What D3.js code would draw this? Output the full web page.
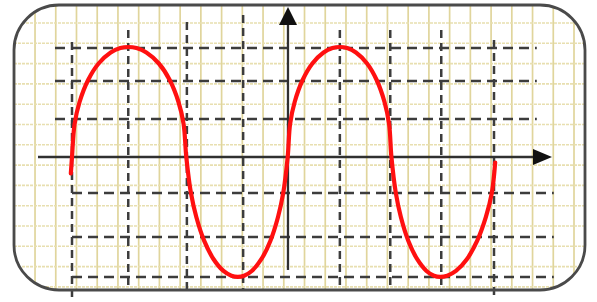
<!DOCTYPE html>
<html>
<head>
<meta charset="utf-8">
<script src="https://cdn.jsdelivr.net/npm/d3@7/dist/d3.min.js"></script>
<style>
  html, body { margin: 0; padding: 0; background: #ffffff; }
  svg { display: block; }
</style>
</head>
<body>
<svg id="chart" width="597" height="302"></svg>
<script>
// ---- DATA ----
// phase in degrees along x, amplitude (peak = 1) along y
const curveX = [-2,
  0, 4.4, 12.9, 27.5, 45.4, 66, 82.5, 96,
  110, 126.9, 148.2, 166.7, 181.7, 190.4, 195,
  202.9, 212.1, 225.6, 241.3, 258.4, 271.9, 283,
  293.7, 306.7, 323.3, 338.4, 351.5, 360.4, 368,
  372.1, 379.9, 393.5, 410.1, 429.2, 444.5, 457,
  469.4, 484.5, 503.4, 519.8, 533.2, 541, 545,
  552.5, 561.1, 573.9, 588.7, 604.8, 617.5, 628,
  640.2, 655.1, 674, 691.2, 706.2, 716.3, 722];
const curveY = [-0.15,
  0, 0.3, 0.5, 0.7, 0.85, 0.95, 0.99, 1.0,
  0.99, 0.95, 0.85, 0.7, 0.5, 0.3, 0,
  -0.327, -0.545, -0.763, -0.927, -1.036, -1.079, -1.09,
  -1.079, -1.036, -0.927, -0.763, -0.545, -0.327, 0,
  0.3, 0.5, 0.7, 0.85, 0.95, 0.99, 1.0,
  0.99, 0.95, 0.85, 0.7, 0.5, 0.3, 0,
  -0.327, -0.545, -0.763, -0.927, -1.036, -1.079, -1.09,
  -1.079, -1.036, -0.927, -0.763, -0.545, -0.327, -0.05];
// dashed guide lines (x in degrees, y in amplitude)
const vGuides = [0, 96, 196, 292, 457, 543, 630, 720];
const hGuidesUpper = [0.99, 0.69, 0.345];
const hGuidesLower = [-0.327, -0.727, -1.09];
const yAxisAt = 368.5;

// ---- LAYOUT ----
const svg = d3.select("#chart");
const x = d3.scaleLinear().domain([0, 720]).range([72, 494]);
const y = d3.scaleLinear().domain([-1, 1]).range([267, 47]);

const box = { x: 14, y: 5, w: 571, h: 285, r: 45 };

const defs = svg.append("defs");
defs.append("clipPath").attr("id", "boxclip")
  .append("rect").attr("x", box.x).attr("y", box.y).attr("width", box.w).attr("height", box.h)
  .attr("rx", box.r).attr("ry", box.r);

svg.append("rect").attr("x", box.x).attr("y", box.y).attr("width", box.w).attr("height", box.h)
  .attr("rx", box.r).attr("ry", box.r).attr("fill", "#ffffff");

// light graph-paper grid
const g = svg.append("g").attr("clip-path", "url(#boxclip)");
g.selectAll("line.gv").data(d3.range(14.3, 590, 20.73)).join("line")
  .attr("x1", d => d).attr("x2", d => d).attr("y1", box.y).attr("y2", box.y + box.h)
  .attr("stroke", "#e0d59c").attr("stroke-width", 1.7);
g.selectAll("line.gh").data(d3.range(2.7, 300, 20.3)).join("line")
  .attr("y1", d => d).attr("y2", d => d).attr("x1", box.x).attr("x2", box.x + box.w)
  .attr("stroke", "#e8dfb0").attr("stroke-width", 1.6).attr("stroke-dasharray", "3,1");

// dashed guides
const dashCol = "#3c3c3c";
const vTop = [1.045, 1.155, 1.227, 1.29, 1.155, 1.155, 1.155, 1.064];
const vBot = [-1.3, -1.21, -1.21, -1.21, -1.21, -1.21, -1.21, -1.3];
svg.selectAll("line.vg").data(vGuides).join("line")
  .attr("x1", d => x(d)).attr("x2", d => x(d))
  .attr("y1", (d, i) => y(vTop[i])).attr("y2", (d, i) => y(vBot[i]))
  .attr("stroke", dashCol).attr("stroke-width", 2.5).attr("stroke-dasharray", "8,5");
svg.selectAll("line.hu").data(hGuidesUpper).join("line")
  .attr("y1", d => y(d)).attr("y2", d => y(d))
  .attr("x1", x(-29)).attr("x2", x(793))
  .attr("stroke", dashCol).attr("stroke-width", 2.5).attr("stroke-dasharray", "10,6");
svg.selectAll("line.hl").data(hGuidesLower).join("line")
  .attr("y1", d => y(d)).attr("y2", d => y(d))
  .attr("x1", x(0)).attr("x2", x(822))
  .attr("stroke", dashCol).attr("stroke-width", 2.5).attr("stroke-dasharray", "10,6");

// box border
svg.append("rect").attr("x", box.x).attr("y", box.y).attr("width", box.w).attr("height", box.h)
  .attr("rx", box.r).attr("ry", box.r).attr("fill", "none")
  .attr("stroke", "#4a4a4a").attr("stroke-width", 2.8);

// axes
const axCol = "#303030";
svg.append("line").attr("x1", x(-58)).attr("x2", x(800)).attr("y1", y(0)).attr("y2", y(0))
  .attr("stroke", axCol).attr("stroke-width", 2.3);
const ax = x(819), ay = y(0);
svg.append("path").attr("d", `M${ax},${ay} L${ax - 19},${ay - 8} L${ax - 19},${ay + 8} Z`).attr("fill", "#111");
const yx = x(yAxisAt);
svg.append("line").attr("x1", yx).attr("x2", yx).attr("y1", y(-1.027)).attr("y2", y(1.2))
  .attr("stroke", axCol).attr("stroke-width", 2.3);
const ty = y(1.364);
svg.append("path").attr("d", `M${yx},${ty} L${yx - 9},${ty + 18} L${yx + 9},${ty + 18} Z`).attr("fill", "#111");

// red curve
const pts = curveX.map((d, i) => [d, curveY[i]]);
svg.append("path").datum(pts)
  .attr("d", d3.line().x(d => x(d[0])).y(d => y(d[1])).curve(d3.curveCatmullRom.alpha(0.5)))
  .attr("fill", "none").attr("stroke", "#ff1010").attr("stroke-width", 4.2).attr("stroke-linecap", "round");
</script>
</body>
</html>
